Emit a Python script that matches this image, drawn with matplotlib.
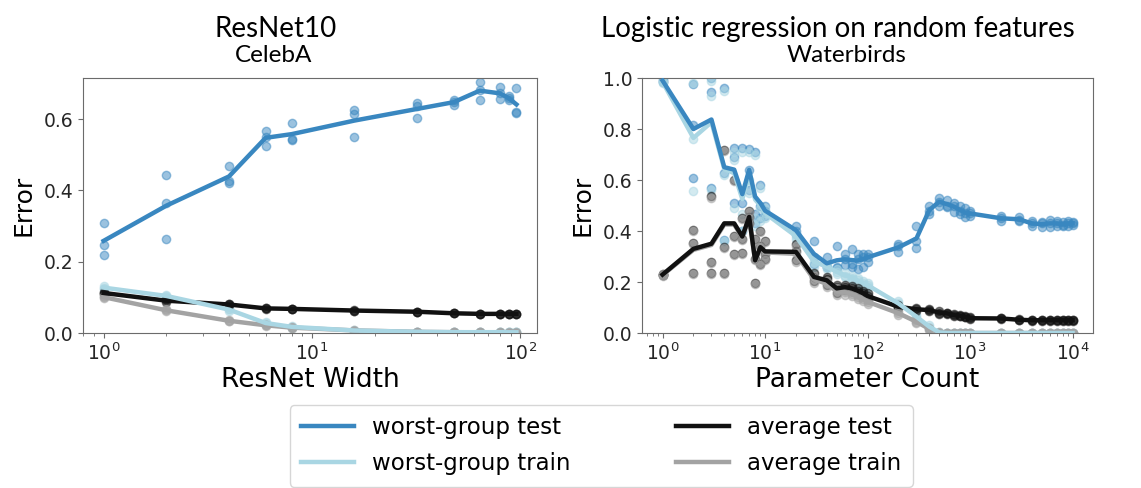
import numpy as np
import matplotlib
matplotlib.use("Agg")
import matplotlib.pyplot as plt

# CelebA, ResNet10 at different widths (3 seeds per width)
widths = [1, 2, 4, 6, 8, 16, 32, 48, 64, 80, 88, 96]
celeba_worst_test = [
    [0.309, 0.442, 0.469, 0.567, 0.588, 0.624, 0.646, 0.654, 0.705, 0.689, 0.665, 0.686],
    [0.246, 0.365, 0.427, 0.551, 0.544, 0.614, 0.637, 0.648, 0.682, 0.672, 0.658, 0.621],
    [0.220, 0.264, 0.421, 0.524, 0.541, 0.549, 0.602, 0.640, 0.652, 0.655, 0.654, 0.616],
]
celeba_worst_train = [
    [0.127, 0.104, 0.068, 0.032, 0.020, 0.008, 0.004, 0.003, 0.003, 0.003, 0.002, 0.002],
    [0.131, 0.107, 0.063, 0.027, 0.017, 0.007, 0.003, 0.002, 0.002, 0.002, 0.002, 0.002],
    [0.124, 0.101, 0.066, 0.025, 0.015, 0.006, 0.003, 0.002, 0.002, 0.002, 0.002, 0.002],
]
celeba_avg_test = [
    [0.116, 0.094, 0.081, 0.070, 0.068, 0.064, 0.060, 0.056, 0.054, 0.054, 0.053, 0.054],
    [0.112, 0.092, 0.079, 0.069, 0.068, 0.062, 0.059, 0.055, 0.054, 0.053, 0.054, 0.053],
    [0.109, 0.086, 0.080, 0.068, 0.067, 0.063, 0.060, 0.055, 0.053, 0.054, 0.054, 0.054],
]
celeba_avg_train = [
    [0.104, 0.066, 0.036, 0.023, 0.016, 0.008, 0.004, 0.003, 0.002, 0.002, 0.002, 0.002],
    [0.101, 0.064, 0.034, 0.022, 0.015, 0.007, 0.003, 0.002, 0.002, 0.002, 0.001, 0.001],
    [0.097, 0.061, 0.033, 0.020, 0.014, 0.007, 0.003, 0.002, 0.002, 0.001, 0.001, 0.001],
]

# Waterbirds, logistic regression on random features (3 seeds per size)
param_counts = [1, 2, 3, 4, 5, 6, 7, 8, 9, 10,
                20, 30, 40, 50, 60, 70, 80, 90, 100,
                200, 300, 400, 500, 600, 700, 800, 900, 1000,
                2000, 3000, 4000, 5000, 6000, 7000, 8000, 9000, 10000]
wb_worst_test = [
    [0.995, 0.976, 0.999, 0.960, 0.724, 0.724, 0.720, 0.710, 0.580, 0.500,
     0.420, 0.360, 0.300, 0.340, 0.310, 0.330, 0.310, 0.310, 0.310,
     0.350, 0.420, 0.500, 0.530, 0.520, 0.510, 0.500, 0.490, 0.480,
     0.460, 0.455, 0.440, 0.435, 0.445, 0.440, 0.435, 0.440, 0.435],
    [0.990, 0.817, 0.946, 0.626, 0.690, 0.510, 0.640, 0.465, 0.500, 0.480,
     0.400, 0.300, 0.260, 0.260, 0.290, 0.270, 0.290, 0.300, 0.300,
     0.340, 0.360, 0.480, 0.515, 0.500, 0.500, 0.480, 0.470, 0.470,
     0.450, 0.445, 0.430, 0.430, 0.430, 0.430, 0.425, 0.430, 0.430],
    [0.985, 0.607, 0.567, 0.365, 0.508, 0.400, 0.560, 0.430, 0.450, 0.460,
     0.390, 0.270, 0.260, 0.255, 0.267, 0.258, 0.252, 0.260, 0.280,
     0.318, 0.333, 0.466, 0.500, 0.495, 0.475, 0.466, 0.456, 0.457,
     0.440, 0.438, 0.420, 0.416, 0.415, 0.420, 0.421, 0.420, 0.425],
]
wb_worst_train = [
    [0.990, 0.980, 0.990, 0.950, 0.710, 0.710, 0.710, 0.700, 0.570, 0.490,
     0.390, 0.300, 0.270, 0.250, 0.235, 0.225, 0.215, 0.205, 0.195,
     0.125, 0.072, 0.030, 0.004, 0.0, 0.0, 0.0, 0.0, 0.0,
     0.0, 0.0, 0.0, 0.0, 0.0, 0.0, 0.0, 0.0, 0.0],
    [0.985, 0.760, 0.930, 0.620, 0.680, 0.465, 0.600, 0.450, 0.490, 0.470,
     0.380, 0.280, 0.260, 0.240, 0.225, 0.217, 0.206, 0.197, 0.188,
     0.116, 0.064, 0.025, 0.002, 0.0, 0.0, 0.0, 0.0, 0.0,
     0.0, 0.0, 0.0, 0.0, 0.0, 0.0, 0.0, 0.0, 0.0],
    [0.980, 0.555, 0.560, 0.360, 0.490, 0.400, 0.550, 0.420, 0.440, 0.450,
     0.370, 0.260, 0.250, 0.230, 0.220, 0.210, 0.197, 0.190, 0.180,
     0.107, 0.056, 0.020, 0.001, 0.0, 0.0, 0.0, 0.0, 0.0,
     0.0, 0.0, 0.0, 0.0, 0.0, 0.0, 0.0, 0.0, 0.0],
]
wb_avg_test = [
    [0.232, 0.404, 0.537, 0.718, 0.600, 0.450, 0.480, 0.370, 0.400, 0.360,
     0.350, 0.235, 0.220, 0.190, 0.190, 0.185, 0.175, 0.165, 0.155,
     0.108, 0.098, 0.095, 0.085, 0.080, 0.074, 0.071, 0.067, 0.061,
     0.059, 0.054, 0.052, 0.052, 0.052, 0.052, 0.052, 0.052, 0.052],
    [0.229, 0.352, 0.280, 0.338, 0.380, 0.370, 0.456, 0.290, 0.340, 0.310,
     0.320, 0.220, 0.210, 0.180, 0.180, 0.175, 0.165, 0.155, 0.145,
     0.103, 0.093, 0.090, 0.080, 0.077, 0.070, 0.068, 0.064, 0.058,
     0.057, 0.052, 0.050, 0.050, 0.050, 0.050, 0.050, 0.050, 0.050],
    [0.226, 0.234, 0.234, 0.234, 0.310, 0.315, 0.430, 0.195, 0.270, 0.290,
     0.285, 0.205, 0.190, 0.155, 0.170, 0.165, 0.158, 0.148, 0.135,
     0.098, 0.088, 0.085, 0.075, 0.074, 0.066, 0.065, 0.061, 0.055,
     0.055, 0.050, 0.048, 0.048, 0.048, 0.048, 0.048, 0.048, 0.048],
]
wb_avg_train = [
    [0.230, 0.400, 0.530, 0.712, 0.595, 0.446, 0.476, 0.366, 0.396, 0.356,
     0.340, 0.225, 0.205, 0.175, 0.170, 0.160, 0.150, 0.140, 0.130,
     0.085, 0.050, 0.020, 0.003, 0.0, 0.0, 0.0, 0.0, 0.0,
     0.0, 0.0, 0.0, 0.0, 0.0, 0.0, 0.0, 0.0, 0.0],
    [0.227, 0.348, 0.276, 0.334, 0.376, 0.366, 0.452, 0.286, 0.336, 0.306,
     0.312, 0.210, 0.195, 0.165, 0.160, 0.152, 0.142, 0.132, 0.122,
     0.078, 0.044, 0.016, 0.002, 0.0, 0.0, 0.0, 0.0, 0.0,
     0.0, 0.0, 0.0, 0.0, 0.0, 0.0, 0.0, 0.0, 0.0],
    [0.224, 0.230, 0.230, 0.230, 0.306, 0.311, 0.426, 0.191, 0.266, 0.286,
     0.280, 0.195, 0.180, 0.150, 0.150, 0.145, 0.135, 0.125, 0.115,
     0.070, 0.038, 0.012, 0.001, 0.0, 0.0, 0.0, 0.0, 0.0,
     0.0, 0.0, 0.0, 0.0, 0.0, 0.0, 0.0, 0.0, 0.0],
]

labels = ["worst-group test", "worst-group train", "average test", "average train"]
colors = ["#3987c0", "#a9d6e3", "#111111", "#a3a3a3"]
# draw order: grey and light lines first, dark ones on top
draw_order = [3, 1, 2, 0]

plt.rcParams["font.family"] = "DejaVu Sans"
plt.rcParams["axes.edgecolor"] = "#6b6b6b"
plt.rcParams["xtick.color"] = "#6b6b6b"
plt.rcParams["ytick.color"] = "#6b6b6b"
plt.rcParams["xtick.labelcolor"] = "#262626"
plt.rcParams["ytick.labelcolor"] = "#262626"


def plot_panel(ax, x, series, xlabel, ylim, yticks):
    handles = [None] * len(series)
    x = np.array(x)
    for i in draw_order:
        seeds = np.array(series[i])
        for s in seeds:
            ax.scatter(x, s, s=36, color=colors[i], alpha=0.5, zorder=2 + i * 0.01)
        line, = ax.plot(x, seeds.mean(axis=0), color=colors[i], lw=3.2,
                        zorder=3 + (3 - i) * 0.1, label=labels[i])
        handles[i] = line
    ax.set_xscale("log")
    ax.set_ylim(*ylim)
    ax.set_yticks(yticks)
    ax.set_xlabel(xlabel, fontsize=19, labelpad=2)
    ax.set_ylabel("Error", fontsize=18, labelpad=6)
    ax.tick_params(labelsize=13.5)
    return handles


fig = plt.figure(figsize=(11.41, 4.88), dpi=100)
ax1 = fig.add_axes([0.0727, 0.3176, 0.398, 0.5225])
ax2 = fig.add_axes([0.5627, 0.3176, 0.3953, 0.5225])

handles = plot_panel(ax1, widths,
                     [celeba_worst_test, celeba_worst_train, celeba_avg_test, celeba_avg_train],
                     "ResNet Width", (0, 0.715), [0.0, 0.2, 0.4, 0.6])
plot_panel(ax2, param_counts,
           [wb_worst_test, wb_worst_train, wb_avg_test, wb_avg_train],
           "Parameter Count", (0, 1.0), [0.0, 0.2, 0.4, 0.6, 0.8, 1.0])

fig.text(0.242, 0.924, "ResNet10", fontsize=20, family="Lato", ha="center", va="baseline")
fig.text(0.240, 0.873, "CelebA", fontsize=17.5, family="Lato", ha="center", va="baseline")
fig.text(0.734, 0.924, "Logistic regression on random features", fontsize=20,
         family="Lato", ha="center", va="baseline")
fig.text(0.742, 0.873, "Waterbirds", fontsize=17.5, family="Lato", ha="center", va="baseline")

leg = fig.legend(handles=handles, labels=labels, ncol=2, loc="upper center",
                 bbox_to_anchor=(0.527, 0.170), borderaxespad=0, fontsize=16.5,
                 handlelength=2.3, handletextpad=0.8, columnspacing=4.6,
                 borderpad=0.5, labelspacing=0.55)
leg.get_frame().set_edgecolor("#cccccc")

fig.savefig("out.png", dpi=100)
